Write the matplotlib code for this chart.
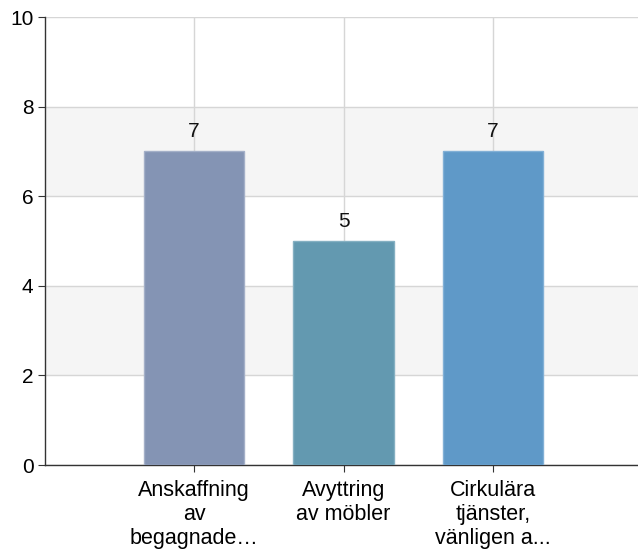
import matplotlib
matplotlib.use("Agg")
import matplotlib.pyplot as plt

categories = ["Anskaffning\nav\nbegagnade…", "Avyttring\nav möbler", "Cirkulära\ntjänster,\nvänligen a..."]
values = [7, 5, 7]
colors = ["#8494b4", "#6399b0", "#5f99c8"]
edge_colors = ["#a4b0c8", "#85b0c2", "#82b0d6"]
y_ticks = [0, 2, 4, 6, 8, 10]

plt.rcParams["font.family"] = ["Liberation Sans", "DejaVu Sans"]

fig = plt.figure(figsize=(6.38, 5.51), dpi=100)
ax = fig.add_axes([0.0698, 0.156, 0.9302, 0.813])

# alternating bands
for lo in (2, 6):
    ax.axhspan(lo, lo + 2, color="#f5f5f5", zorder=0, lw=0)

x = list(range(len(categories)))
ax.bar(x, values, width=0.67, color=colors, edgecolor=edge_colors, linewidth=1, zorder=3)
for xi, v in zip(x, values):
    ax.text(xi, v + 0.32, str(v), ha="center", va="baseline", fontsize=15, color="#111111", zorder=4)

ax.set_xlim(-1, 2.97)
ax.set_ylim(0, 10)
ax.set_yticks(y_ticks)
ax.set_xticks(x)
ax.set_xticklabels(categories, fontsize=15.5, linespacing=1.17)
ax.tick_params(axis="y", labelsize=15, length=5, color="#333333", pad=3)
ax.tick_params(axis="x", length=5, color="#333333", pad=6)

ax.grid(True, color="#d6d6d6", linewidth=1, zorder=1)
ax.set_axisbelow(True)
for s in ("top", "right"):
    ax.spines[s].set_visible(False)
for s in ("left", "bottom"):
    ax.spines[s].set_color("#333333")
    ax.spines[s].set_linewidth(1)

fig.savefig("out.png", dpi=100)
